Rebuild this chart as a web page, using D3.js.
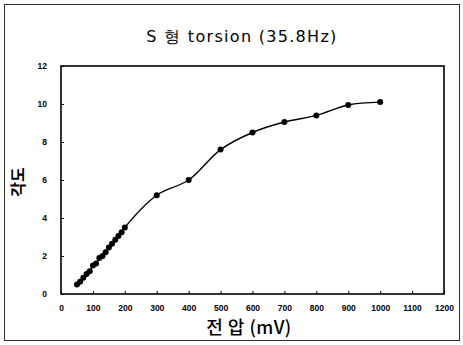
<!DOCTYPE html>
<html>
<head>
<meta charset="utf-8">
<script src="https://cdn.jsdelivr.net/npm/d3@7"></script>
<style>
  body { margin: 0; background: #fff; }
  svg { font-family: "Noto Sans CJK KR", "DejaVu Sans", sans-serif; }
</style>
</head>
<body>
<svg id="chart" width="463" height="345"></svg>
<script>
// data
const voltage = [50, 60, 70, 80, 90, 100, 110, 120, 130, 140, 150, 160, 170, 180, 190, 200,
                 300, 400, 500, 600, 700, 800, 900, 1000];
const angle = [0.5, 0.65, 0.85, 1.05, 1.2, 1.5, 1.6, 1.9, 2.0, 2.2, 2.45, 2.65, 2.85, 3.05, 3.25, 3.5,
               5.2, 6.0, 7.6, 8.5, 9.05, 9.4, 9.95, 10.1];
const xTicks = [0, 100, 200, 300, 400, 500, 600, 700, 800, 900, 1000, 1100, 1200];
const yTicks = [0, 2, 4, 6, 8, 10, 12];

const svg = d3.select("#chart");

// outer frame
svg.append("rect")
  .attr("x", 4.5).attr("y", 4.5)
  .attr("width", 455).attr("height", 336)
  .attr("fill", "none").attr("stroke", "#333").attr("stroke-width", 1);

const x = d3.scaleLinear().domain([0, 1200]).range([61, 444]);
const y = d3.scaleLinear().domain([0, 12]).range([294, 66]);

const tickFont = "'Liberation Sans', Arial, sans-serif";

// x axis
svg.append("g")
  .attr("transform", `translate(0,${y(0)})`)
  .call(d3.axisBottom(x).tickValues(xTicks).tickFormat(d3.format("d")).tickSize(-3).tickPadding(11))
  .call(g => g.select(".domain").remove())
  .call(g => g.selectAll("text").attr("font-size", 8.5).attr("font-weight", "bold")
    .style("font-family", tickFont));

// y axis
svg.append("g")
  .attr("transform", `translate(${x(0)},0)`)
  .call(d3.axisLeft(y).tickValues(yTicks).tickFormat(d3.format("d")).tickSize(-3).tickPadding(14))
  .call(g => g.select(".domain").remove())
  .call(g => g.selectAll("text").attr("font-size", 8.5).attr("font-weight", "bold")
    .style("font-family", tickFont));

// plot frame
svg.append("rect")
  .attr("x", x(0)).attr("y", y(12))
  .attr("width", x(1200) - x(0)).attr("height", y(0) - y(12))
  .attr("fill", "none").attr("stroke", "#000").attr("stroke-width", 1.6);

const pts = voltage.map((v, i) => [v, angle[i]]);

const line = d3.line()
  .x(d => x(d[0])).y(d => y(d[1]))
  .curve(d3.curveCatmullRom.alpha(0.5));

svg.append("path")
  .datum(pts)
  .attr("d", line)
  .attr("fill", "none").attr("stroke", "#000").attr("stroke-width", 1.4);

svg.append("g").selectAll("circle")
  .data(pts)
  .join("circle")
  .attr("cx", d => x(d[0])).attr("cy", d => y(d[1]))
  .attr("r", 3).attr("fill", "#000");

// title
svg.append("text")
  .attr("x", 242).attr("y", 42)
  .attr("text-anchor", "middle")
  .attr("font-size", 16)
  .style("font-family", "'DejaVu Sans', sans-serif")
  .style("letter-spacing", "1.3px")
  .text("S 형 torsion (35.8Hz)");

// x label
svg.append("text")
  .attr("x", 249).attr("y", 334)
  .attr("text-anchor", "middle")
  .attr("font-size", 18).attr("font-weight", 500)
  .style("letter-spacing", "0.5px")
  .text("전 압 (mV)");

// y label
svg.append("text")
  .attr("transform", "translate(24,182) rotate(-90)")
  .attr("text-anchor", "middle")
  .attr("font-size", 16).attr("font-weight", "bold")
  .text("각도");
</script>
</body>
</html>
